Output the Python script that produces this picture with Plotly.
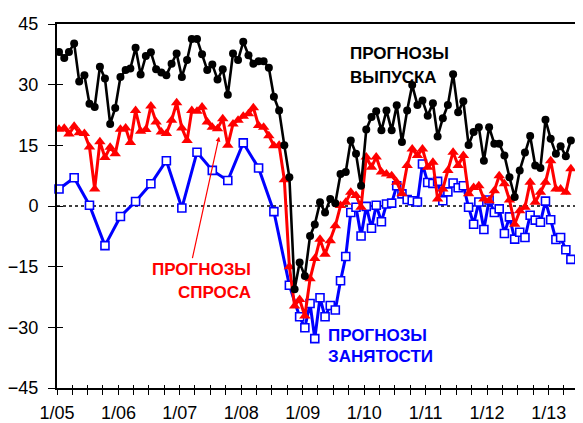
import pandas as pd
import plotly.graph_objects as go

# ---------------- data ----------------
start = "2005-01-01"
n_months = 101
month_dates = pd.date_range(start, periods=n_months, freq="MS") + pd.Timedelta(days=12)

# ПРОГНОЗЫ ВЫПУСКА (monthly, 1/05 .. 5/13)
output_vals = [
    38.1, 36.6, 38.1, 40.2, 30.8, 32.3, 25.3, 24.5, 34.4, 31.5, 20.3, 24.2,   # 2005
    31.9, 33.6, 34.0, 39.1, 32.5, 37.1, 38.0, 33.8, 33.0, 32.3, 35.2, 37.7,   # 2006
    31.9, 36.1, 41.3, 41.3, 37.5, 33.6, 35.0, 31.3, 33.8, 27.5, 37.7, 36.1,   # 2007
    40.6, 37.3, 35.2, 35.8, 35.8, 34.2, 27.0, 23.6, 15.0, 7.1, -20.6, -14.0,  # 2008
    -17.3, -7.4, -4.6, 0.9, -1.6, 1.7, 0.7, 7.9, 8.4, 16.2, 12.9, 5.0,        # 2009
    18.9, 22.0, 23.4, 18.7, 23.6, 18.7, 24.9, 15.8, 23.6, 29.9, 25.0, 26.1,   # 2010
    22.3, 25.4, 17.2, 21.7, 25.0, 32.6, 23.2, 25.9, 15.1, 18.3, 19.5, 11.2,   # 2011
    19.5, 15.4, 15.4, 12.5, 7.1, 2.2, 8.8, 13.2, 17.3, 10.0, 9.4, 21.3,       # 2012
    16.6, 12.9, 14.8, 12.3, 16.2,                                             # 2013
]

# ПРОГНОЗЫ СПРОСА (monthly)
demand_vals = [
    19.0, 19.2, 17.8, 19.7, 18.1, 17.9, 14.6, 4.2, 15.9, 12.0, 14.5, 12.9,    # 2005
    19.0, 19.3, 15.7, 23.6, 18.5, 18.9, 24.7, 20.8, 18.3, 17.9, 21.2, 25.5,   # 2006
    19.3, 16.2, 23.6, 23.4, 24.5, 20.8, 19.5, 19.1, 21.6, 15.0, 20.3, 21.2,   # 2007
    22.2, 22.8, 24.3, 19.9, 19.5, 17.4, 14.9, 15.0, 6.5, -15.0, -24.7, -23.1, # 2008
    -27.2, -18.0, -13.0, -8.2, -11.9, -8.6, -4.9, 0.1, 0.9, 3.4, 2.6, -0.3,   # 2009
    12.1, 9.6, 12.1, 8.4, 7.9, 7.5, 5.9, 3.0, 10.0, 14.1, 12.5, 14.1,         # 2010
    9.6, 10.8, 1.7, 4.2, 8.8, 13.3, 10.0, 12.5, 3.0, 4.6, 5.0, 1.7,           # 2011
    1.3, 3.8, 7.5, 5.5, 1.5, -4.5, -1.2, -0.3, 5.9, 0.9, 3.4, 5.9,            # 2012
    11.2, 4.2, 4.2, 3.4, 9.2,                                                 # 2013
]

# ПРОГНОЗЫ ЗАНЯТОСТИ: quarterly 1/05..10/08, then monthly 12/08..5/13
employment_quarterly = [4.2, 7.0, 0.2, -9.8, -2.6, 1.1, 5.5, 11.2,
                        -0.5, 13.3, 8.8, 6.3, 15.6, 9.4, -1.4, -19.6]
employment_monthly = [
    -27.4, -30.1, -24.1, -32.8, -22.7, -27.4, -24.6, -25.7, -18.5, -12.5, -1.6, -0.3, -7.4,
    -0.1, -5.5, 0.2, -3.9, 0.5, 0.7, 5.0, 3.0, 1.6, 1.3, 1.0, 10.4,
    5.8, 5.6, 6.1, 1.3, 3.5, 5.7, 4.5, 5.0, -0.3, -4.5, 1.0, -5.8,
    1.5, -1.6, -0.7, -6.8, -2.7, -8.2, -6.5, -7.8, -2.3, -3.5, -4.0, 1.2,
    -3.4, -8.3, -7.8, -10.8, -13.2,
]
employment_dates = list(month_dates[0:46:3]) + list(month_dates[47:n_months])
employment_vals = employment_quarterly + employment_monthly

y_ticks = [-45, -30, -15, 0, 15, 30, 45]
x_range = ["2005-01-01", "2013-07-24"]

# ---------------- figure ----------------
FONT = "Arial, Liberation Sans, sans-serif"
OFF = 8                      # default page (body) margin of the html page
W, H = 583 - OFF, 423 - OFF
L, R, T, B = 54 - OFF, 0, 24 - OFF, 34
pw, ph = W - L - R, H - T - B


def px(x):                   # screen pixel -> paper
    return (x - OFF - L) / pw


def py(y):
    return (H - B - (y - OFF)) / ph


fig = go.Figure()

fig.add_trace(go.Scatter(
    x=employment_dates, y=employment_vals, mode="lines+markers",
    line=dict(color="#0000FF", width=3),
    marker=dict(symbol="square", size=8, color="white",
                line=dict(color="#0000FF", width=1.6)),
    cliponaxis=False,
))
fig.add_trace(go.Scatter(
    x=month_dates, y=demand_vals, mode="lines+markers",
    line=dict(color="#FF0000", width=3),
    marker=dict(symbol="triangle-up", size=10, color="#FF0000"),
))
fig.add_trace(go.Scatter(
    x=month_dates, y=output_vals, mode="lines+markers",
    line=dict(color="#000000", width=2.6),
    marker=dict(symbol="circle", size=8, color="#000000"),
))

# zero reference line
fig.add_shape(type="line", xref="paper", x0=0, x1=1, yref="y", y0=0, y1=0,
              line=dict(color="black", width=1.5, dash="dot"), layer="below")

ann_font = dict(family=FONT, size=17)
labels = [
    ("ПРОГНОЗЫ", 347, 54, "left", "#000000"),
    ("ВЫПУСКА", 347, 77.5, "left", "#000000"),
    ("ПРОГНОЗЫ", 251, 270.5, "right", "#FF0000"),
    ("СПРОСА", 251, 293.5, "right", "#FF0000"),
    ("ПРОГНОЗЫ", 325, 336, "left", "#0000FF"),
    ("ЗАНЯТОСТИ", 325, 357.5, "left", "#0000FF"),
]
for text, x, y, anchor, col in labels:
    fig.add_annotation(text="<b>%s</b>" % text, xref="paper", yref="paper",
                       x=px(x), y=py(y), xanchor=anchor, yanchor="middle",
                       showarrow=False, font=dict(ann_font, color=col))

# arrow pointing from the demand label to the red series
fig.add_annotation(xref="paper", yref="paper", x=px(217), y=py(137),
                   axref="pixel", ayref="pixel", ax=-27, ay=123,
                   showarrow=True, arrowhead=2, arrowsize=0.8, arrowwidth=1.2,
                   arrowcolor="#FF0000", text="")

fig.update_layout(
    width=W, height=H, margin=dict(l=L, r=R, t=T, b=B, pad=0),
    paper_bgcolor="white", plot_bgcolor="white", showlegend=False,
    font=dict(family=FONT, color="black"),
    xaxis=dict(type="date", range=x_range, tick0="2005-01-01", dtick="M12",
               tickformat="%-m/%y", showgrid=False, zeroline=False,
               showline=True, linecolor="black", linewidth=2, mirror=True,
               ticks="outside", ticklen=5, tickwidth=1.3, tickcolor="black",
               minor=dict(dtick="M3", ticks="outside", ticklen=5, tickwidth=1.3,
                          tickcolor="black", showgrid=False),
               tickfont=dict(size=18, family=FONT), ticklabelstandoff=2),
    yaxis=dict(range=[-45, 45], tickvals=y_ticks, showgrid=False, zeroline=False,
               showline=True, linecolor="black", linewidth=2,
               ticks="outside", ticklen=7, tickwidth=1.3, tickcolor="black",
               tickfont=dict(size=18, family=FONT), ticklabelstandoff=6),
    xaxis2=dict(type="date", range=x_range, overlaying="x", tick0="2005-01-01",
                dtick="M3", ticks="inside", ticklen=3, tickwidth=1.3,
                tickcolor="black", showticklabels=False, showgrid=False,
                zeroline=False, showline=False, anchor="y"),
    yaxis2=dict(range=[-45, 45], overlaying="y", tickvals=y_ticks, ticks="inside",
                ticklen=6, tickwidth=1.3, tickcolor="black", showticklabels=False,
                showgrid=False, zeroline=False, showline=False, anchor="x",
                side="left"),
)

# invisible trace to activate the secondary axes (tick decoration only)
fig.add_trace(go.Scatter(x=[month_dates[0]], y=[None], xaxis="x2", yaxis="y2",
                         mode="markers", hoverinfo="skip", showlegend=False))

fig.write_html("out.html")
